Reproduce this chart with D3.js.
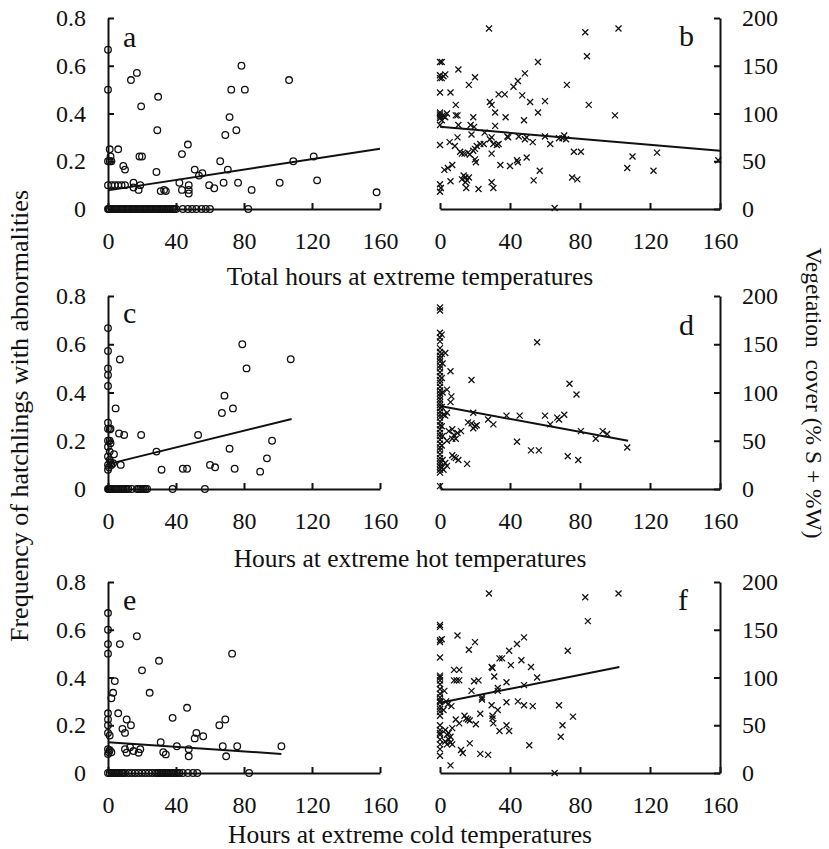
<!DOCTYPE html>
<html>
<head>
<meta charset="utf-8">
<script src="https://cdnjs.cloudflare.com/ajax/libs/d3/7.8.5/d3.min.js"></script>
<style>
  body { margin: 0; background: #fff; }
  svg { display: block; }
</style>
</head>
<body>
<svg id="chart" width="829" height="849"></svg>
<script>
// tick values
const xTicks = [0, 40, 80, 120, 160];
const freqTicks = [0, 0.2, 0.4, 0.6, 0.8];
const vegTicks = [0, 50, 100, 150, 200];

const xTitles = [
    "Total hours at extreme temperatures",
    "Hours at extreme hot temperatures",
    "Hours at extreme cold temperatures"
];
const leftTitle = "Frequency of hatchlings with abnormalities";
const rightTitle = "Vegetation  cover (% S + %W)";

// a: total hours vs frequency of abnormalities
const panelA = [
    [0, 0.667], [0, 0.5], [1, 0.25], [1.5, 0.22], [0, 0.2], [1, 0.2], [2, 0.2], [6, 0.25], [9, 0.18], [10, 0.165],
    [13.5, 0.54], [17, 0.57], [19.5, 0.43], [18.5, 0.22], [20, 0.22], [29, 0.33], [29.5, 0.47], [28.5, 0.155],
    [15, 0.11], [15, 0.09], [18, 0.08], [19, 0.1], [0, 0.1], [2, 0.1], [4, 0.1], [6, 0.1], [8, 0.1], [10, 0.1],
    [31, 0.075], [33, 0.08], [34, 0.075], [42, 0.11], [43.5, 0.23], [47, 0.27], [43.5, 0.08], [47.5, 0.1],
    [47.5, 0.08], [47.5, 0.065], [51, 0.165], [53.5, 0.14], [55.5, 0.15], [59.5, 0.1], [62.5, 0.087], [66, 0.2],
    [68, 0.11], [69, 0.31], [71.5, 0.385], [72.5, 0.5], [70.5, 0.165], [75.5, 0.33], [76.5, 0.11], [78.5, 0.6],
    [80.5, 0.5], [84.5, 0.08], [101, 0.11], [106.5, 0.54], [109, 0.2], [121, 0.22], [123, 0.12], [158, 0.07],
    [0, 0], [0.5, 0], [1, 0], [2, 0], [3, 0], [4, 0], [5, 0], [6, 0], [7, 0], [8, 0], [9, 0], [10, 0], [11, 0],
    [12, 0], [13, 0], [14, 0], [15, 0], [16, 0], [17, 0], [18, 0], [19, 0], [20, 0], [21, 0], [22, 0], [23, 0],
    [24, 0], [25, 0], [26, 0], [27, 0], [28, 0], [29, 0], [30, 0], [31, 0], [32, 0], [33, 0], [34, 0], [35, 0],
    [36, 0], [37, 0], [38, 0], [39, 0], [40, 0], [44, 0], [47, 0], [49.5, 0], [52, 0], [55, 0], [57.5, 0],
    [60, 0], [82.5, 0]
];
const fitA = [[0, 0.078], [160, 0.252]];

// b: total hours vs vegetation cover
const panelB = [
    [28, 189], [83, 185], [84, 160], [102, 189], [0, 154], [1, 154], [0, 137], [1, 137], [2, 139], [0, 140],
    [3, 141], [0, 122], [6, 122], [10.5, 146], [16.5, 130], [20, 138], [9, 109], [4, 100], [0, 101], [1.5, 98],
    [3, 96], [0, 97], [0, 95], [1, 93], [0, 88], [2, 97], [0, 99], [9, 98], [10, 98], [10.5, 88], [19, 96],
    [17.5, 88], [28.5, 112], [29.5, 109], [31.5, 101], [33.5, 120], [37, 120], [42, 128], [44.5, 134],
    [48.5, 142], [47, 119], [51.5, 112], [56, 154], [60, 113], [72.5, 130], [85, 109], [100, 98], [37.5, 96],
    [48, 93], [56, 101], [0, 67], [5.5, 70], [10, 75], [8.5, 66], [11.5, 60], [12.5, 58], [14, 58], [16, 59],
    [17, 57], [19, 61], [20, 63], [21, 66], [23, 68], [25, 68], [18, 78], [19.5, 86], [25.5, 80], [28.5, 73],
    [29.5, 75], [30.5, 68], [32.5, 67], [33.5, 68], [31.5, 87], [29.5, 58], [38.5, 76], [39, 75], [45, 76],
    [48.5, 73], [49.5, 75], [53, 70], [60, 76], [63, 68], [68, 74], [70, 74], [71, 77], [72, 73], [76.5, 60],
    [80.5, 60], [75.5, 33], [78.5, 31], [107, 43], [110, 55], [124, 59], [122, 40], [159, 51], [2.5, 41],
    [4.5, 43], [7, 46], [0, 26], [0, 18], [0.5, 22], [6, 29], [12.5, 31], [13.5, 35], [14.5, 33], [15.5, 30],
    [16.5, 33], [14.5, 28], [15, 22], [22, 21], [29.5, 28], [30.5, 22], [34.5, 46], [40, 45], [44, 51],
    [44.5, 49], [49.5, 54], [53.5, 30], [57, 40], [65.5, 1], [20, 52], [20.5, 49]
];
const fitB = [[0, 86], [160, 61]];

// c: hot hours vs frequency
const panelC = [
    [0, 0.667], [0, 0.572], [0, 0.5], [0, 0.473], [0, 0.427], [0, 0.275], [0, 0.25], [1, 0.247], [1.5, 0.25],
    [7, 0.537], [4.5, 0.334], [6.5, 0.23], [9.5, 0.224], [19.5, 0.224], [1, 0.2], [1.5, 0.19], [0, 0.175],
    [1, 0.155], [0, 0.2], [3.5, 0.144], [0, 0.135], [1, 0.12], [1.5, 0.11], [0, 0.1], [0.5, 0.09], [0, 0.08],
    [2, 0.1], [3, 0.107], [7.5, 0.1], [28.5, 0.155], [31.5, 0.08], [44, 0.084], [46.5, 0.084], [53, 0.224],
    [60, 0.1], [63, 0.09], [67, 0.315], [68.5, 0.387], [73.5, 0.334], [71.5, 0.167], [74.5, 0.084], [79, 0.6],
    [81.5, 0.5], [89.5, 0.072], [93.5, 0.127], [96.5, 0.2], [107.5, 0.538],
    [0, 0], [0.5, 0], [1, 0], [1.5, 0], [2, 0], [3, 0], [4, 0], [5, 0], [6, 0], [7, 0], [8, 0], [9, 0],
    [10, 0], [11, 0], [12, 0], [14, 0], [17, 0], [18, 0], [19, 0], [20, 0], [21, 0], [22, 0], [23, 0],
    [38, 0], [57, 0]
];
const fitC = [[0, 0.103], [108, 0.29]];

// d: hot hours vs vegetation cover
const panelD = [
    [0, 188], [0, 185], [0, 162], [0, 157], [0, 153], [0, 146], [0, 142], [0, 138], [0, 135], [0, 132],
    [0, 128], [0, 125], [0, 121], [0, 117], [0, 113], [0, 110], [0, 106], [0, 102], [0, 99], [0, 96], [0, 93],
    [0, 90], [0, 87], [0, 84], [0, 80], [0, 77], [0, 74], [0, 70], [0, 66], [0, 62], [0, 58], [0, 55], [0, 51],
    [0, 47], [0, 43], [0, 40], [0, 36], [0, 32], [0, 29], [0, 26], [0, 23], [0, 20], [0, 17], [0, 3],
    [1, 160], [1, 140], [1.5, 130], [1, 115], [1.5, 100], [1, 85], [1, 65], [1.5, 55], [1, 45], [1.5, 30],
    [1, 22], [3, 141], [6, 122], [4, 103], [6.5, 96], [6, 90], [4, 79], [2, 77], [3, 76], [5, 60], [7, 62],
    [8, 56], [10, 58], [12, 60], [4, 50], [7, 52], [9, 52], [18, 113], [19, 79], [16, 69], [18, 68], [19, 63],
    [20, 65], [21, 66], [27.5, 72], [30.5, 67], [38, 76], [45.5, 76], [44, 49], [52, 40], [56.5, 40],
    [55.5, 152], [60, 76], [63, 67], [67, 74], [68, 72], [71, 77], [74, 109], [78, 98], [73, 34], [79, 30],
    [80.5, 60], [89, 52], [93, 60], [95.5, 57], [107, 43], [15.5, 26], [8, 33], [9, 32], [10.5, 30], [7, 35],
    [3, 27], [4, 24], [2, 20]
];
const fitD = [[0, 86], [107.5, 50]];

// e: cold hours vs frequency
const panelE = [
    [0, 0.67], [0, 0.6], [0, 0.54], [0, 0.5], [4, 0.385], [3, 0.336], [2, 0.313], [0, 0.25], [0, 0.224],
    [0, 0.2], [0, 0.168], [1, 0.157], [7, 0.54], [6, 0.25], [17, 0.573], [20, 0.43], [24.5, 0.336], [30, 0.47],
    [11, 0.224], [13.5, 0.2], [8.5, 0.185], [10, 0.168], [0, 0.1], [0.5, 0.087], [1, 0.095], [2, 0.087],
    [0, 0.08], [10, 0.1], [11, 0.085], [13, 0.108], [15, 0.092], [18, 0.085], [19, 0.1], [31, 0.129],
    [32.5, 0.087], [34, 0.078], [38, 0.231], [40.5, 0.112], [46.5, 0.273], [47.5, 0.1], [47.5, 0.07],
    [51, 0.145], [52, 0.168], [56, 0.154], [65.5, 0.2], [69, 0.224], [67.5, 0.112], [69.5, 0.07], [73, 0.5],
    [76, 0.112], [102, 0.112],
    [0, 0], [1, 0], [2, 0], [3, 0], [4, 0], [5, 0], [6, 0], [7, 0], [8, 0], [9, 0], [10, 0], [12, 0], [14, 0],
    [16, 0], [18, 0], [20, 0], [22, 0], [24, 0], [26, 0], [28, 0], [29, 0], [30, 0], [31, 0], [32, 0], [33, 0],
    [34, 0], [35, 0], [36, 0], [37, 0], [38, 0], [39, 0], [40, 0], [41, 0], [42, 0], [44, 0], [47, 0],
    [50, 0], [52.5, 0], [83, 0]
];
const fitE = [[0, 0.129], [102, 0.08]];

// f: cold hours vs vegetation cover
const panelF = [
    [28, 188], [83, 184], [84.5, 159], [102, 188], [0, 153], [0, 155], [0, 139], [0, 137], [1, 140], [0, 121],
    [10, 144], [16.5, 129], [20, 137], [8, 108], [11, 108], [8, 97], [11, 97], [9.5, 97],
    [0, 102], [0, 100], [0, 97], [0, 93], [0, 88], [0, 83], [0, 79], [0, 76], [0, 74], [0, 70], [0, 67],
    [0, 64], [0, 60], [0, 50], [0, 45], [0, 42], [0, 40], [0, 35], [0, 30], [0, 25], [0, 18],
    [2.5, 86], [3.5, 75], [4.5, 72], [6.5, 70], [2, 66], [18, 86], [19.5, 96], [22, 97], [30, 110], [29.5, 111],
    [31, 101], [34, 120], [35.5, 120], [33, 89], [33, 86], [39.5, 128], [44, 135], [48, 142], [46.5, 118],
    [52, 111], [55.5, 100], [40.5, 113], [38, 95], [48, 92], [73, 128], [24, 77], [24, 79], [29.5, 71],
    [33, 66], [38, 74], [44.5, 75], [48, 71], [53, 70], [30, 57], [30.5, 52], [30, 60], [34, 44], [39.5, 44],
    [38, 50], [68, 71], [70, 50], [76, 59], [69, 38], [51, 29], [6, 8], [65.5, 0], [12, 24], [13, 21],
    [17, 31], [23, 20], [27.5, 19], [14, 60], [15, 57], [16, 56], [17, 55], [11, 52], [9, 56], [20.5, 51],
    [23, 62], [3, 45], [4, 40], [5, 35], [6, 32], [7, 30], [4, 30], [3, 33], [5, 42], [6, 38], [7, 47]
];
const fitF = [[0, 73.5], [102.5, 111]];

// layout
const FONT = '"Liberation Serif", "Times New Roman", serif';
const rowY = [[209, 18], [489, 296], [773, 582]];   // [zero, top]
const colX = [[108, 380], [440, 720]];
const titleY = [285, 567, 843];

const panels = [
    {letter: "a", row: 0, col: 0, data: panelA, fit: fitA, lx: 123, ly: 47},
    {letter: "b", row: 0, col: 1, data: panelB, fit: fitB, lx: 679, ly: 46},
    {letter: "c", row: 1, col: 0, data: panelC, fit: fitC, lx: 123, ly: 323},
    {letter: "d", row: 1, col: 1, data: panelD, fit: fitD, lx: 679, ly: 335},
    {letter: "e", row: 2, col: 0, data: panelE, fit: fitE, lx: 123, ly: 610},
    {letter: "f", row: 2, col: 1, data: panelF, fit: fitF, lx: 678, ly: 610},
];

const svg = d3.select("#chart");

function styleAxis(g) {
    g.attr("font-family", FONT).attr("font-size", 24);
    g.selectAll("path.domain").attr("stroke", "#111").attr("stroke-width", 2);
    g.selectAll(".tick line").attr("stroke", "#111").attr("stroke-width", 2);
    g.selectAll(".tick text").attr("fill", "#111");
}

function drawPanel(p) {
    const [y0, y1] = rowY[p.row];
    const [x0, x1] = colX[p.col];
    const isFreq = p.col === 0;

    const x = d3.scaleLinear().domain([0, 160]).range([x0, x1]);
    const y = d3.scaleLinear().domain(isFreq ? [0, 0.8] : [0, 200]).range([y0, y1]);

    const g = svg.append("g");

    g.append("g")
        .attr("transform", `translate(0,${y0})`)
        .call(d3.axisBottom(x).tickValues(xTicks).tickSizeInner(-6).tickSizeOuter(0).tickPadding(23))
        .call(styleAxis);

    if (isFreq) {
        g.append("g")
            .attr("transform", `translate(${x0},0)`)
            .call(d3.axisLeft(y).tickValues(freqTicks).tickSizeInner(-6).tickSizeOuter(0).tickPadding(22)
                .tickFormat(d => d === 0 ? "0" : d3.format(".1f")(d)))
            .call(styleAxis);
    } else {
        g.append("g")
            .attr("transform", `translate(${x1},0)`)
            .call(d3.axisRight(y).tickValues(vegTicks).tickSizeInner(-6).tickSizeOuter(0).tickPadding(22))
            .call(styleAxis);
    }

    const marks = g.append("g")
        .attr("fill", "none")
        .attr("stroke", "#111")
        .attr("stroke-width", 1.3);

    if (isFreq) {
        marks.selectAll("circle")
            .data(p.data)
            .join("circle")
            .attr("cx", d => x(d[0]))
            .attr("cy", d => y(d[1]))
            .attr("r", 3.3);
    } else {
        const s = 3;
        marks.selectAll("path")
            .data(p.data)
            .join("path")
            .attr("d", d => {
                const cx = x(d[0]), cy = y(d[1]);
                return `M${cx - s},${cy - s}L${cx + s},${cy + s}M${cx - s},${cy + s}L${cx + s},${cy - s}`;
            });
    }

    g.append("path")
        .datum(p.fit)
        .attr("fill", "none")
        .attr("stroke", "#111")
        .attr("stroke-width", 2)
        .attr("d", d3.line().x(d => x(d[0])).y(d => y(d[1])));

    g.append("text")
        .attr("x", p.lx)
        .attr("y", p.ly)
        .attr("font-family", FONT)
        .attr("font-size", 30)
        .attr("fill", "#111")
        .text(p.letter);
}

panels.forEach(drawPanel);

xTitles.forEach((t, i) => {
    svg.append("text")
        .attr("x", 410)
        .attr("y", titleY[i])
        .attr("text-anchor", "middle")
        .attr("font-family", FONT)
        .attr("font-size", 25.5)
        .attr("fill", "#111")
        .text(t);
});

svg.append("text")
    .attr("transform", "translate(28,416) rotate(-90)")
    .attr("text-anchor", "middle")
    .attr("font-family", FONT)
    .attr("font-size", 26)
    .attr("fill", "#111")
    .text(leftTitle);

svg.append("text")
    .attr("transform", "translate(806,393) rotate(90)")
    .attr("text-anchor", "middle")
    .attr("font-family", FONT)
    .attr("font-size", 23.5)
    .attr("fill", "#111")
    .style("white-space", "pre")
    .text(rightTitle);
</script>
</body>
</html>
